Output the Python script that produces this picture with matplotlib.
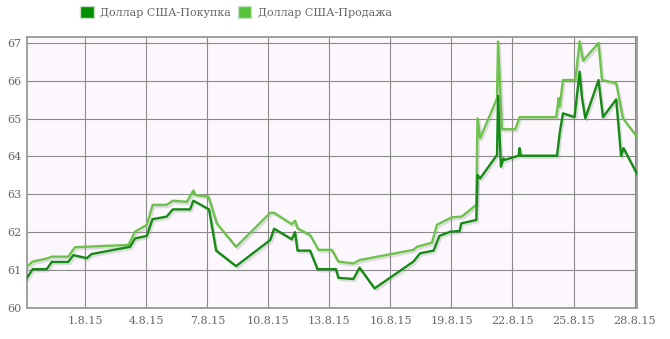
import matplotlib
matplotlib.use("Agg")
import matplotlib.pyplot as plt
import matplotlib.patheffects as pe
from matplotlib.patches import Patch

# x = day of August 2015 (0 = 31 July, -1 = 30 July ...)
buy_days = [-1.88, -1.59, -0.90, -0.65, 0.16, 0.41, 1.07, 1.31, 3.20, 3.44, 4.02,
            4.30, 5.00, 5.30, 6.15, 6.31, 7.08, 7.43, 8.41, 10.09, 10.28, 11.15,
            11.31, 11.43, 12.05, 12.41, 13.32, 13.44, 14.18, 14.48, 15.22, 17.13,
            17.46, 18.12, 18.41, 18.94, 19.40, 19.48, 20.22, 20.28, 20.41, 21.24,
            21.29, 21.43, 21.56, 21.62, 22.30, 22.35, 22.40, 24.19, 24.32, 24.48,
            25.05, 25.30, 25.42, 25.58, 26.23, 26.45, 27.10, 27.34, 27.46, 28.12]
buy_vals = [60.78, 61.02, 61.02, 61.21, 61.21, 61.39, 61.31, 61.42, 61.61, 61.83, 61.90,
            62.34, 62.41, 62.60, 62.60, 62.83, 62.60, 61.51, 61.10, 61.79, 62.09, 61.81,
            62.00, 61.51, 61.51, 61.02, 61.02, 60.79, 60.76, 61.06, 60.51, 61.22,
            61.44, 61.51, 61.90, 62.01, 62.03, 62.23, 62.32, 63.51, 63.42, 64.04,
            65.60, 63.73, 63.95, 63.91, 64.02, 64.22, 64.02, 64.02, 64.61, 65.14,
            65.04, 66.24, 65.54, 65.01, 66.02, 65.04, 65.51, 64.01, 64.22, 63.54]

sell_days = [-1.88, -1.59, -0.90, -0.65, 0.16, 0.49, 3.12, 3.44, 4.02, 4.31, 5.00,
             5.30, 5.99, 6.31, 6.40, 7.05, 7.46, 8.41, 10.09, 10.28, 11.15, 11.31,
             11.43, 12.05, 12.46, 13.12, 13.44, 14.18, 14.48, 17.13, 17.30, 18.04,
             18.28, 18.61, 19.02, 19.51, 20.22, 20.28, 20.41, 21.24, 21.29, 21.48,
             22.14, 22.35, 24.15, 24.27, 24.32, 24.48, 25.09, 25.30, 25.47, 26.23,
             26.40, 27.10, 27.43, 28.12]
sell_vals = [61.08, 61.22, 61.30, 61.35, 61.35, 61.60, 61.66, 62.01, 62.19, 62.72, 62.72,
             62.83, 62.80, 63.10, 62.98, 62.94, 62.23, 61.61, 62.51, 62.51, 62.21, 62.30,
             62.10, 61.92, 61.53, 61.53, 61.22, 61.17, 61.26, 61.53, 61.61, 61.72,
             62.19, 62.28, 62.39, 62.41, 62.72, 65.01, 64.48, 65.54, 67.04, 64.72,
             64.72, 65.04, 65.04, 65.54, 65.32, 66.02, 66.02, 67.04, 66.53, 67.00,
             66.02, 65.94, 65.01, 64.52]

tick_days = [1, 4, 7, 10, 13, 16, 19, 22, 25, 28]
tick_labels = ["1.8.15", "4.8.15", "7.8.15", "10.8.15", "13.8.15", "16.8.15",
               "19.8.15", "22.8.15", "25.8.15", "28.8.15"]
y_ticks = [60, 61, 62, 63, 64, 65, 66, 67]

series_names = ["Доллар США-Покупка", "Доллар США-Продажа"]
line_colors = ["#158a15", "#6cc24a"]
patch_colors = ["#009000", "#55c23a"]

plt.rcParams['font.family'] = ['DejaVu Serif']

fig = plt.figure(figsize=(6.70, 3.39), dpi=100)
ax = fig.add_axes([0.0403, 0.0923, 0.9104, 0.7987])
ax.set_facecolor("#fcf7fc")

shadow = [pe.SimpleLineShadow(offset=(1.2, -1.5), shadow_color="#888888", alpha=0.25),
          pe.Normal()]
ax.plot(sell_days, sell_vals, color=line_colors[1], lw=1.7, path_effects=shadow, zorder=3)
ax.plot(buy_days, buy_vals, color=line_colors[0], lw=1.7, path_effects=shadow, zorder=4)

ax.set_xlim(-1.87, 28.12)
ax.set_ylim(60, 67.16)
ax.set_xticks(tick_days)
ax.set_xticklabels(tick_labels)
ax.set_yticks(y_ticks)
ax.grid(True, color="#8a8a8a", lw=0.8)
ax.set_axisbelow(True)
ax.tick_params(length=0, labelsize=8, labelcolor="#666666", pad=6)
ax.tick_params(axis='y', pad=4)
for s in ax.spines.values():
    s.set_color("#999999")
    s.set_linewidth(1.3)

handles = [Patch(facecolor=patch_colors[0], edgecolor="#c5e0c5", lw=1.0),
           Patch(facecolor=patch_colors[1], edgecolor="#c5e0c5", lw=1.0)]
leg = fig.legend(handles, series_names, loc="center", bbox_to_anchor=(0.352, 0.964),
                 ncol=2, frameon=False, fontsize=8, handlelength=1.25, handleheight=1.25,
                 handletextpad=0.55, columnspacing=0.6, borderpad=0)
for t in leg.get_texts():
    t.set_color("#666666")

fig.savefig("out.png", dpi=100, facecolor="white")
